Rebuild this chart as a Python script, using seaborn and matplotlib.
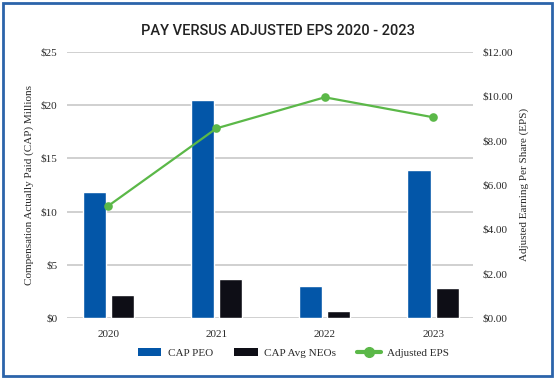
import pandas as pd
import matplotlib.pyplot as plt
import seaborn as sns
from matplotlib.patches import Patch, Rectangle
from matplotlib.lines import Line2D
from matplotlib.ticker import FuncFormatter

years = ["2020", "2021", "2022", "2023"]
cap_peo = [11.8, 20.5, 3.0, 13.9]
cap_neo = [2.2, 3.7, 0.7, 2.8]
adj_eps = [5.05, 8.55, 9.95, 9.05]
series_names = ["CAP PEO", "CAP Avg NEOs"]

BLUE = "#0356a8"
DARK = "#0e0e16"
GREEN = "#5bb848"
GRID = "#c4c4c4"
FRAME = "#2b64aa"


def build_frame():
    df = pd.DataFrame({
        "Year": years * 2,
        "Value": cap_peo + cap_neo,
        "Series": [series_names[0]] * 4 + [series_names[1]] * 4,
    })
    eps = pd.DataFrame({"Year": years, "EPS": adj_eps})
    return df, eps


def main():
    df, eps = build_frame()

    sns.set_style("white")
    plt.rcParams["font.family"] = ["Liberation Serif", "DejaVu Serif"]

    fig = plt.figure(figsize=(5.56, 3.84), dpi=100)
    ax = fig.add_axes([0.1205, 0.172, 0.7305, 0.693])

    sns.barplot(data=df, x="Year", y="Value", hue="Series",
                palette=[BLUE, DARK], width=0.52, gap=0.18,
                saturation=1, ax=ax, legend=False)
    ax.set_xlim(-0.38, 3.37)
    ax.set_ylim(0, 25)
    ax.set_yticks([0, 5, 10, 15, 20, 25])
    ax.yaxis.set_major_formatter(FuncFormatter(lambda v, p: f"${v:.0f}"))
    ax.grid(axis="y", color=GRID, linewidth=1.1)
    ax.set_axisbelow(True)
    for s in ax.spines.values():
        s.set_visible(False)
    ax.tick_params(axis="both", length=0, labelsize=8, colors="#2a2a2a")
    ax.tick_params(axis="y", pad=7)
    ax.tick_params(axis="x", pad=9)
    ax.set_xlabel("")
    ax.set_ylabel("Compensation Actually Paid (CAP) Millions",
                  fontsize=8, color="#2a2a2a", labelpad=5)

    ax2 = ax.twinx()
    sns.pointplot(data=eps, x="Year", y="EPS", color=GREEN,
                  markers="o", markersize=5, linewidth=1.6, ax=ax2)
    ax2.set_ylim(0, 12)
    ax2.set_yticks([0, 2, 4, 6, 8, 10, 12])
    ax2.yaxis.set_major_formatter(FuncFormatter(lambda v, p: f"${v:.2f}"))
    for s in ax2.spines.values():
        s.set_visible(False)
    ax2.tick_params(axis="y", length=0, labelsize=8, colors="#2a2a2a", pad=7)
    ax2.set_ylabel("Adjusted Earning Per Share (EPS)", fontsize=8,
                   color="#2a2a2a", labelpad=4)
    ax2.set_xlim(-0.38, 3.37)

    fig.text(0.5, 0.92, "PAY VERSUS ADJUSTED EPS 2020 - 2023",
             ha="center", va="center", fontsize=10.5, color="#222222",
             weight="medium", family=["Roboto", "DejaVu Sans"])

    handles = [
        Patch(facecolor=BLUE, edgecolor="none"),
        Patch(facecolor=DARK, edgecolor="none"),
        Line2D([], [], color=GREEN, linewidth=3, marker="o", markersize=7),
    ]
    fig.legend(handles, series_names + ["Adjusted EPS"], loc="center",
               bbox_to_anchor=(0.528, 0.081), ncol=3, frameon=False,
               fontsize=8, handlelength=2.1, handleheight=0.75,
               columnspacing=1.9, handletextpad=0.6,
               labelcolor="#2a2a2a")

    fig.patches.append(Rectangle((0.005, 0.022), 0.987, 0.97,
                                 transform=fig.transFigure, fill=False,
                                 edgecolor=FRAME, linewidth=2.0))

    fig.savefig("out.png", dpi=100)


if __name__ == "__main__":
    main()
